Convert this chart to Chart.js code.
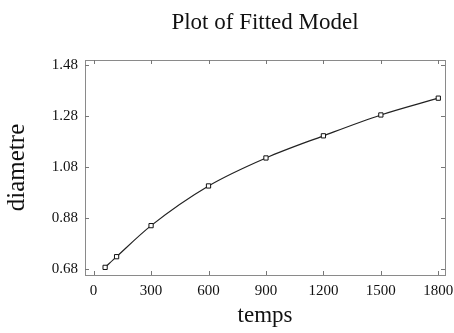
<!DOCTYPE html>
<html><head><meta charset="utf-8">
<script src="https://cdn.jsdelivr.net/npm/chart.js@4/dist/chart.umd.min.js"></script>
<style>html,body{margin:0;padding:0;background:#fff}#wrap{width:454px;height:333px}</style>
</head><body><div id="wrap"><canvas id="c" width="454" height="333"></canvas></div>
<script>
const temps = [60, 120, 300, 600, 900, 1200, 1500, 1800];
const diametre = [0.685, 0.727, 0.849, 1.005, 1.115, 1.202, 1.284, 1.35];
const xTicks = [0, 300, 600, 900, 1200, 1500, 1800];
const yTicks = [0.68, 0.88, 1.08, 1.28, 1.48];

const frame = {
  id: 'frame',
  afterDraw(chart) {
    const a = chart.chartArea, ctx = chart.ctx;
    ctx.save();
    ctx.strokeStyle = '#8a8a8a';
    ctx.lineWidth = 1;
    ctx.strokeRect(Math.round(a.left) + 0.5, Math.round(a.top) + 0.5, Math.round(a.right - a.left), Math.round(a.bottom - a.top));
    ctx.strokeStyle = '#777';
    const xs = chart.scales.x, ys = chart.scales.y;
    xTicks.forEach(v => {
      const px = Math.round(xs.getPixelForValue(v)) + 0.5;
      ctx.beginPath(); ctx.moveTo(px, a.bottom); ctx.lineTo(px, a.bottom - 4); ctx.stroke();
      ctx.beginPath(); ctx.moveTo(px, a.top); ctx.lineTo(px, a.top + 4); ctx.stroke();
    });
    yTicks.forEach(v => {
      const py = Math.round(ys.getPixelForValue(v)) + 0.5;
      ctx.beginPath(); ctx.moveTo(a.left, py); ctx.lineTo(a.left + 4, py); ctx.stroke();
      ctx.beginPath(); ctx.moveTo(a.right, py); ctx.lineTo(a.right - 4, py); ctx.stroke();
    });
    ctx.restore();
  }
};

new Chart(document.getElementById('c'), {
  type: 'line',
  data: {
    datasets: [{
      data: temps.map((t, i) => ({x: t, y: diametre[i]})),
      borderColor: '#222',
      borderWidth: 1.2,
      pointStyle: 'rect',
      pointRadius: 3,
      pointBorderWidth: 1,
      pointBorderColor: '#111',
      pointBackgroundColor: '#fff',
      cubicInterpolationMode: 'monotone',
      fill: false
    }]
  },
  options: {
    responsive: false,
    animation: false,
    layout: {padding: {left: 0, right: 9, top: 0, bottom: 0}},
    plugins: {
      legend: {display: false},
      tooltip: {enabled: false},
      title: {display: false}
    },
    scales: {
      x: {
        type: 'linear',
        min: -45, max: 1835,
        afterBuildTicks: s => { s.ticks = xTicks.map(v => ({value: v})); },
        afterFit: s => { s.height = 58; s.paddingLeft = 0; s.paddingRight = 0; },
        grid: {display: false, drawTicks: false, tickLength: 0},
        border: {display: false},
        ticks: {color: '#111', padding: 7, maxRotation: 0, font: {family: 'Liberation Serif', size: 15}, callback: v => String(v)},
        title: {display: true, text: 'temps', color: '#111', font: {family: 'Liberation Serif', size: 23}, padding: {top: 0, bottom: 3}}
      },
      x2: {
        type: 'linear',
        position: 'top',
        min: -45, max: 1835,
        afterFit: s => { s.height = 60; s.paddingLeft = 0; s.paddingRight = 0; },
        grid: {display: false, drawTicks: false, tickLength: 0},
        border: {display: false},
        ticks: {display: false},
        title: {display: true, text: 'Plot of Fitted Model', color: '#111', font: {family: 'Liberation Serif', size: 23}, padding: {top: 9, bottom: 0}}
      },
      y: {
        type: 'linear',
        min: 0.655, max: 1.50,
        afterBuildTicks: s => { s.ticks = yTicks.map(v => ({value: v})); },
        afterFit: s => { s.width = 85; s.paddingTop = 0; s.paddingBottom = 0; },
        grid: {display: false, drawTicks: false, tickLength: 0},
        border: {display: false},
        ticks: {color: '#111', padding: 7, font: {family: 'Liberation Serif', size: 15}, callback: v => v.toFixed(2)},
        title: {display: true, text: 'diametre', color: '#111', font: {family: 'Liberation Serif', size: 25}, padding: {top: 2, bottom: 0}}
      }
    }
  },
  plugins: [frame]
});
</script>
</body></html>
